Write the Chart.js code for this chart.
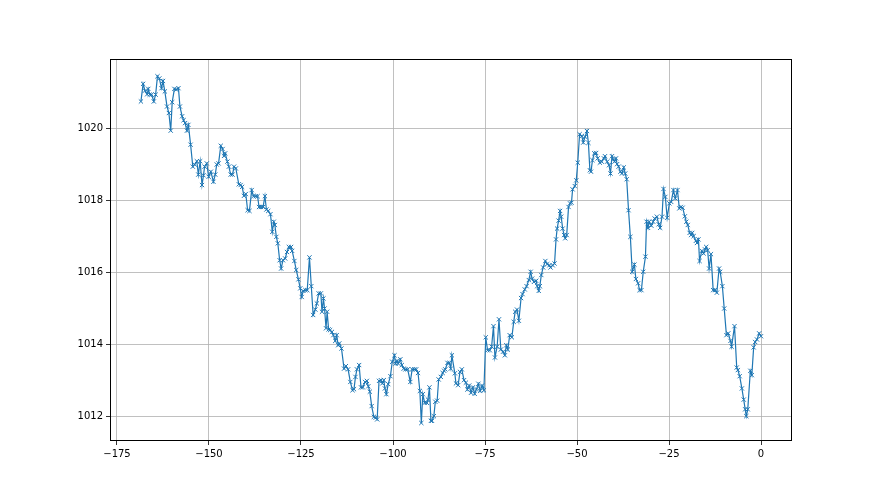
<!DOCTYPE html>
<html>
<head>
<meta charset="utf-8">
<script src="https://cdn.jsdelivr.net/npm/chart.js@4/dist/chart.umd.min.js"></script>
<style>
  html, body { margin: 0; padding: 0; background: #ffffff; }
  #wrap { width: 880px; height: 495px; }
</style>
</head>
<body>
<div id="wrap"><canvas id="c" width="880" height="495"></canvas></div>
<script>
// Hours relative to now (x) and pressure readings (y)
const hours = [
  -168.5,-167.9,-167.4,-166.8,-166.5,-166.1,-165.6,-165.0,-164.5,-164.0,-163.5,-162.9,-162.5,-162.0,-161.4,-160.9,-160.4,-160.0,-159.4,-158.9,-158.3,-157.9,-157.3,-156.9,-156.5,-156.0,-155.6,-155.0,-154.4,
  -153.9,-153.3,-152.9,-152.4,-151.9,-151.5,-151.2,-150.6,-150.1,-149.5,-148.8,-148.3,-147.9,-147.4,-146.8,-146.3,-145.9,-145.6,-145.0,-144.6,-144.1,-143.6,-143.2,-142.7,-141.9,-141.4,-141.0,-140.5,-140.0,-139.5,
  -139.0,-138.4,-137.9,-137.3,-136.8,-136.4,-135.9,-135.3,-134.8,-134.4,-133.9,-133.3,-132.8,-132.4,-132.1,-131.7,-131.3,-130.8,-130.4,-129.9,-129.3,-128.8,-128.3,-127.7,-127.4,-126.8,-126.3,-125.7,-125.2,-124.8,
  -124.4,-123.8,-123.3,-122.7,-122.2,-121.7,-121.1,-120.7,-120.2,-119.6,-119.3,-118.9,-118.6,-118.2,-117.9,-117.5,-117.1,-116.6,-116.2,-115.7,-115.3,-114.9,-114.6,-114.0,-113.3,-112.8,-112.2,-111.6,-111.0,-110.6,-110.2,-109.8,-109.2,
  -108.7,-108.2,-107.6,-107.1,-106.7,-106.3,-105.8,-105.2,-104.7,-104.3,-103.8,-103.3,-102.9,-102.5,-102.2,-101.8,-101.3,-100.7,-100.2,-99.6,-99.3,-98.9,-98.6,-98.0,-97.6,-97.1,-96.6,-96.0,
  -95.3,-94.8,-94.2,-93.7,-93.2,-92.7,-92.3,-91.9,-91.4,-90.8,-90.5,-90.1,-89.7,-89.4,-88.9,-88.5,-88.0,-87.6,-87.0,-86.5,-86.1,-85.8,-85.2,-84.7,-84.3,-84.0,-83.2,-82.9,-82.3,-81.8,-81.3,-80.7,-80.2,-79.8,
  -79.3,-78.8,-78.3,-77.8,-77.3,-76.8,-76.3,-75.8,-75.3,-74.8,
  -74.3,-73.7,-73.2,-72.7,-72.3,-71.7,-71.2,-70.7,-70.1,-69.6,-69.2,-68.8,-68.3,-67.7,-67.2,-66.8,-66.3,-65.8,-65.2,-64.8,
  -64.2,-63.7,-63.1,-62.6,-62.2,-61.7,-61.1,-60.8,-60.4,-60.1,-59.7,-59.2,-58.6,-58.1,-57.5,-57.2,-56.6,-56.1,-55.7,-55.4,-55.0,-54.6,-54.3,-53.9,-53.5,-53.2,-52.8,-52.3,-51.9,-51.5,-51.2,-50.6,-50.2,
  -49.8,-49.3,-48.7,-48.3,-47.8,-47.3,-46.9,-46.5,-46.2,-45.8,-45.3,-44.8,-44.4,-43.8,-43.3,-42.7,-42.4,-41.8,-41.3,-40.9,-40.5,-40.2,-39.8,-39.4,-39.1,-38.7,-38.2,-37.8,-37.3,-36.9,-36.5,
  -36.0,-35.5,-35.0,-34.4,-34.0,-33.4,-33.0,-32.5,-32.0,-31.4,-31.1,-30.7,-30.4,-29.8,-29.3,-28.9,-28.3,-27.8,-27.4,-26.9,-26.5,-26.0,-25.5,-24.9,-24.4,-23.8,-23.3,-22.7,-22.2,-21.8,-21.3,
  -20.7,-20.3,-19.9,-19.4,-19.0,-18.7,-18.3,-17.7,-17.4,-17.0,-16.7,-16.1,-15.6,-15.2,-14.9,-14.5,-14.1,-13.6,-13.0,-12.5,-12.0,-11.4,-11.1,-10.5,-10.0,-9.4,-8.9,-8.3,-8.0,-7.2,
  -6.6,-6.3,-5.8,-5.2,-4.7,-4.3,-4.0,-3.6,-2.9,-2.5,-2.0,-1.6,-1.1,-0.5,0
];
const pressure = [
  1020.74,1021.23,1021.04,1020.94,1021.09,1020.93,1020.93,1020.74,1020.93,1021.44,1021.38,1021.11,1021.31,1021.02,1020.60,1020.42,1019.93,1020.72,1021.09,1021.07,1021.11,1020.60,1020.33,1020.22,1020.14,1019.93,1020.09,1019.54,1018.93,
  1018.99,1019.08,1018.71,1019.08,1018.42,1018.69,1018.93,1019.02,1018.65,1018.79,1018.51,1018.71,1018.99,1019.02,1019.51,1019.42,1019.23,1019.30,1019.07,1018.93,1018.71,1018.71,1018.93,1018.88,1018.44,1018.42,1018.37,1018.12,1018.17,1017.72,
  1017.70,1018.28,1018.11,1018.11,1018.11,1017.81,1017.81,1017.81,1018.11,1017.74,1017.70,1017.61,1017.12,1017.40,1017.31,1016.98,1016.80,1016.33,1016.10,1016.33,1016.38,1016.56,1016.70,1016.70,1016.59,1016.31,1016.06,1015.80,1015.55,1015.31,
  1015.48,1015.50,1015.50,1016.41,1015.61,1014.81,1014.96,1015.13,1015.41,1015.41,1014.90,1015.27,1014.99,1014.44,1014.90,1014.41,1014.39,1014.34,1014.25,1014.09,1014.25,1013.97,1014.02,1013.88,1013.32,1013.39,1013.30,1012.95,1012.72,1012.75,1013.09,1013.30,1013.42,
  1012.80,1012.80,1012.95,1012.98,1012.83,1012.68,1012.28,1011.98,1011.96,1011.91,1012.98,1013.00,1012.91,1013.00,1012.77,1012.61,1012.89,1013.11,1013.51,1013.69,1013.46,1013.54,1013.46,1013.58,1013.42,1013.32,1013.30,1013.30,
  1012.95,1013.30,1013.30,1013.30,1013.20,1012.70,1011.81,1012.61,1012.37,1012.37,1012.46,1012.80,1011.87,1011.87,1012.00,1012.40,1012.43,1013.02,1013.09,1013.20,1013.26,1013.30,1013.48,1013.48,1013.32,1013.69,1013.19,1012.91,1012.86,1013.23,1013.30,1013.00,1012.93,1012.74,
  1012.85,1012.65,1012.80,1012.62,1012.75,1012.90,1012.70,1012.85,1012.72,1014.19,
  1013.83,1013.83,1013.93,1014.50,1013.63,1013.93,1014.69,1013.85,1013.79,1013.69,1013.97,1013.85,1014.25,1014.19,1014.62,1014.90,1014.96,1014.65,1015.28,1015.39,
  1015.52,1015.61,1015.78,1016.01,1015.82,1015.73,1015.76,1015.61,1015.48,1015.61,1015.92,1016.13,1016.31,1016.22,1016.19,1016.13,1016.19,1016.24,1016.91,1017.21,1017.43,1017.70,1017.54,1017.21,1017.03,1016.94,1017.03,1017.81,1017.91,1017.93,1018.30,1018.39,1018.55,
  1019.04,1019.83,1019.78,1019.60,1019.76,1019.92,1019.59,1018.83,1018.79,1019.11,1019.30,1019.31,1019.16,1019.04,1019.07,1019.16,1019.22,1019.07,1018.97,1018.74,1019.22,1019.13,1019.07,1019.16,1019.00,1018.93,1018.79,1018.74,1018.91,1018.74,1018.58,
  1017.72,1016.98,1016.01,1016.21,1015.81,1015.69,1015.50,1015.50,1016.01,1016.43,1017.40,1017.23,1017.40,1017.29,1017.40,1017.49,1017.54,1017.33,1017.23,1017.54,1018.31,1018.09,1017.51,1017.91,1017.95,1018.28,1018.05,1018.28,1017.77,1017.81,1017.79,
  1017.55,1017.40,1017.31,1017.09,1017.03,1017.09,1017.00,1016.87,1016.81,1016.91,1016.31,1016.59,1016.52,1016.63,1016.70,1016.61,1016.10,1016.50,1015.50,1015.50,1015.43,1016.10,1016.01,1015.61,1014.99,1014.25,1014.30,1014.09,1013.93,1014.50,
  1013.35,1013.28,1013.11,1012.77,1012.46,1012.19,1012.00,1012.19,1013.26,1013.14,1013.91,1014.06,1014.13,1014.30,1014.22
];
const xTicks = [-175, -150, -125, -100, -75, -50, -25, 0];
const yTicks = [1012, 1014, 1016, 1018, 1020];

const points = hours.map((h, i) => ({ x: h, y: pressure[i] }));

const framePlugin = {
  id: 'frame',
  afterDraw(chart) {
    const a = chart.chartArea, ctx = chart.ctx;
    ctx.save();
    ctx.strokeStyle = '#000';
    ctx.lineWidth = 1;
    ctx.strokeRect(Math.round(a.left) + 0.5, Math.round(a.top) + 0.5,
                   Math.round(a.right - a.left) - 1, Math.round(a.bottom - a.top) - 1);
    ctx.restore();
  }
};

new Chart(document.getElementById('c'), {
  type: 'line',
  data: {
    datasets: [{
      data: points,
      borderColor: '#1f77b4',
      borderWidth: 1.2,
      pointStyle: 'crossRot',
      pointRadius: 3,
      pointBorderWidth: 1,
      pointBorderColor: '#1f77b4',
      pointBackgroundColor: 'rgba(0,0,0,0)',
      tension: 0,
      fill: false
    }]
  },
  options: {
    responsive: false,
    devicePixelRatio: 1,
    animation: false,
    layout: { padding: { left: 0, top: 59, right: 88, bottom: 0 } },
    plugins: { legend: { display: false }, tooltip: { enabled: false } },
    scales: {
      x: {
        type: 'linear',
        min: -176.9,
        max: 8.42,
        afterBuildTicks(s) { s.ticks = xTicks.map(v => ({ value: v })); },
        afterFit(s) { s.height = 54; },
        grid: { color: '#b0b0b0', lineWidth: 0.8, tickLength: 4, tickColor: '#000', drawTicks: true },
        border: { display: false },
        ticks: {
          color: '#000', font: { family: 'DejaVu Sans', size: 10 }, padding: 3, maxRotation: 0,
          callback: v => (v < 0 ? '\u2212' + Math.abs(v) : String(v))
        }
      },
      y: {
        type: 'linear',
        min: 1011.31,
        max: 1021.92,
        afterBuildTicks(s) { s.ticks = yTicks.map(v => ({ value: v })); },
        afterFit(s) { s.width = 110; },
        grid: { color: '#b0b0b0', lineWidth: 0.8, tickLength: 4, tickColor: '#000', drawTicks: true },
        border: { display: false },
        ticks: {
          color: '#000', font: { family: 'DejaVu Sans', size: 10 }, padding: 3,
          callback: v => String(v)
        }
      }
    }
  },
  plugins: [framePlugin]
});
</script>
</body>
</html>
